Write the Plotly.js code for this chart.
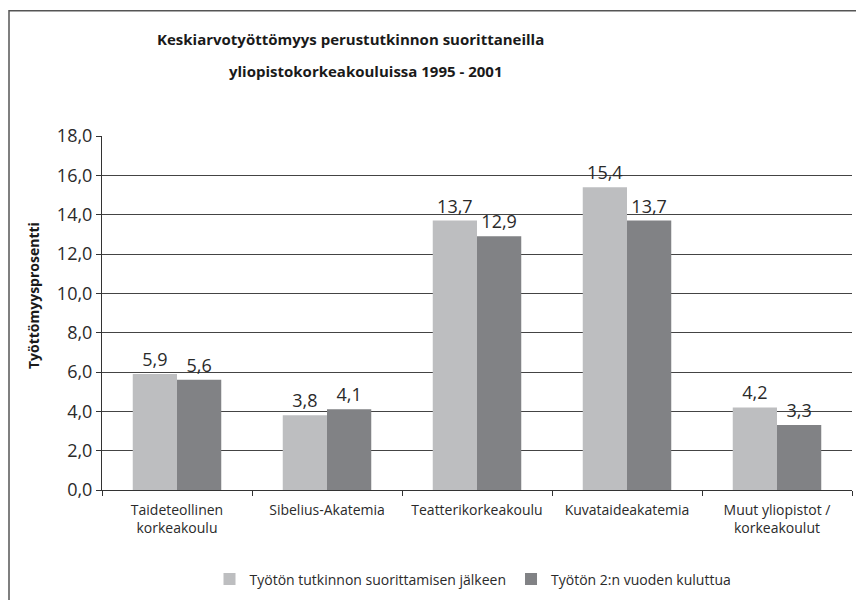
<!DOCTYPE html>
<html>
<head>
<meta charset="utf-8">
<script src="https://cdn.plot.ly/plotly-3.0.1.min.js"></script>
<style>html,body{margin:0;padding:0;background:#fff;}#chart{width:856px;height:600px;}</style>
</head>
<body>
<div id="chart"></div>
<script>
const categories = ["Taideteollinen<br>korkeakoulu", "Sibelius-Akatemia", "Teatterikorkeakoulu", "Kuvataideakatemia", "Muut yliopistot /<br>korkeakoulut"];
const seriesNames = ["Työtön tutkinnon suorittamisen jälkeen", "Työtön 2:n vuoden kuluttua"];
const afterGraduation = [5.9, 3.8, 13.7, 15.4, 4.2];
const afterTwoYears = [5.6, 4.1, 12.9, 13.7, 3.3];
const titleLines = ["Keskiarvotyöttömyys perustutkinnon suorittaneilla", "yliopistokorkeakouluissa 1995 - 2001"];
const yTitle = "Työttömyysprosentti";

const FONT = "Open Sans, Noto Sans, sans-serif";
const textColor = "#2a2a2a";

// plot area geometry (pixels)
const L = 102, R = 852, T = 136, B = 492;
const px = x => (x - L) / (R - L);
const py = y => (B - y) / (B - T);

const traces = [
  {type: "bar", name: seriesNames[0], x: categories, y: afterGraduation,
   marker: {color: "#bdbec0"}, texttemplate: "%{y:.1f}", textposition: "outside",
   textfont: {family: FONT, size: 18, color: textColor}, cliponaxis: false, hoverinfo: "none"},
  {type: "bar", name: seriesNames[1], x: categories, y: afterTwoYears,
   marker: {color: "#818285"}, texttemplate: "%{y:.1f}", textposition: "outside",
   textfont: {family: FONT, size: 18, color: textColor}, cliponaxis: false, hoverinfo: "none"}
];

const layout = {
  width: 856, height: 600,
  margin: {l: L, r: 856 - R, t: T, b: 600 - B},
  paper_bgcolor: "#ffffff", plot_bgcolor: "#ffffff",
  separators: ",.",
  font: {family: FONT, color: textColor},
  barmode: "group", bargap: 0.41, bargroupgap: 0,
  title: {text: "<b>" + titleLines[0] + "</b>", x: 157/856, xanchor: "left", y: 1 - 40/600, yanchor: "middle",
          font: {family: FONT, size: 15, color: "#1a1a1a"}},
  annotations: [
    {text: "<b>" + titleLines[1] + "</b>", xref: "paper", yref: "paper",
     x: px(227), y: py(71), xanchor: "left", yanchor: "middle", showarrow: false,
     font: {family: FONT, size: 15, color: "#1a1a1a"}},
    {text: "<b>" + yTitle + "</b>", xref: "paper", yref: "paper", textangle: -90,
     x: px(33), y: py(297), xanchor: "center", yanchor: "middle", showarrow: false,
     font: {family: FONT, size: 14, color: "#1a1a1a"}}
  ],
  xaxis: {type: "category", showline: true, linecolor: "#333", linewidth: 1,
          ticks: "outside", tickson: "boundaries", ticklen: 5, tickcolor: "#333",
          ticklabelstandoff: 7,
          tickfont: {family: FONT, size: 14, color: textColor}, showgrid: false},
  yaxis: {range: [0, 18], dtick: 2, tickformat: ".1f", showgrid: true, gridcolor: "#444", gridwidth: 1,
          zeroline: false, showline: true, linecolor: "#333", linewidth: 1,
          ticks: "outside", ticklen: 5, tickcolor: "#333",
          tickfont: {family: FONT, size: 18, color: textColor}},
  showlegend: true,
  legend: {orientation: "h", x: px(473), xanchor: "center", y: py(582), yanchor: "middle",
           font: {family: FONT, size: 14, color: textColor}, traceorder: "normal", itemwidth: 30},
  shapes: [
    {type: "rect", xref: "paper", yref: "paper", x0: px(9), x1: 1.2, y0: -0.6, y1: py(10),
     line: {color: "#555", width: 1.5}, fillcolor: "rgba(0,0,0,0)", layer: "above"}
  ]
};

Plotly.newPlot("chart", traces, layout, {staticPlot: true, displayModeBar: false});
</script>
</body>
</html>
